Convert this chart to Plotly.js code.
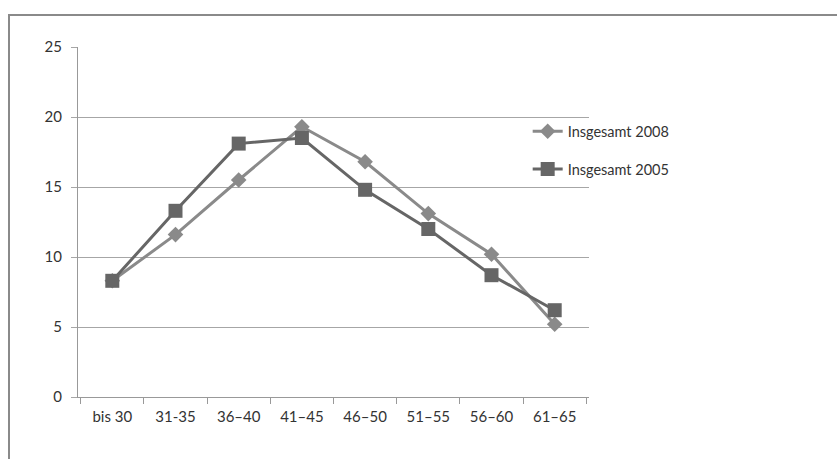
<!DOCTYPE html>
<html>
<head>
<meta charset="utf-8">
<script src="https://cdn.plot.ly/plotly-3.0.1.min.js"></script>
<style>
  html, body { margin:0; padding:0; background:#fff; }
  #frame { position:absolute; left:8px; top:14px; width:900px; height:500px; border:2px solid #8a8a8a; box-sizing:border-box; }
  #chart { position:absolute; left:0; top:0; width:837px; height:459px; }
</style>
</head>
<body>
<div id="frame"></div>
<div id="chart"></div>
<script>
const categories = ["bis 30", "31-35", "36–40", "41–45", "46–50", "51–55", "56–60", "61–65"];
const values2008 = [8.3, 11.6, 15.5, 19.3, 16.8, 13.1, 10.2, 5.2];
const values2005 = [8.3, 13.3, 18.1, 18.5, 14.8, 12.0, 8.7, 6.2];
const yTicks = [0, 5, 10, 15, 20, 25];

const traces = [
  { x: categories, y: values2008, name: "Insgesamt 2008", type: "scatter", mode: "lines+markers", legendgroup: "a",
    line: { color: "#8a8a8a", width: 3 }, marker: { symbol: "diamond", size: 12, color: "#8a8a8a" } },
  { x: categories, y: values2005, name: "Insgesamt 2005", type: "scatter", mode: "lines+markers", legendgroup: "b",
    line: { color: "#666666", width: 3 }, marker: { symbol: "square", size: 14, color: "#666666" } }
];

const layout = {
  width: 837, height: 459,
  margin: { l: 78, r: 248, t: 47, b: 62 },
  paper_bgcolor: "rgba(0,0,0,0)", plot_bgcolor: "rgba(0,0,0,0)",
  font: { family: "Lato, 'Open Sans', sans-serif", size: 15, color: "#333" },
  showlegend: true,
  legend: { x: 0.88, xanchor: "left", y: 0.705, yanchor: "middle", bgcolor: "rgba(0,0,0,0)",
            traceorder: "grouped", font: { size: 14.5, color: "#333" }, tracegroupgap: 16 },
  xaxis: { type: "category", tickson: "boundaries", ticks: "outside", ticklen: 6, tickcolor: "#999",
           showline: true, linecolor: "#999", linewidth: 1, showgrid: false, zeroline: false,
           ticklabelstandoff: 6, tickfont: { size: 15 }, fixedrange: true },
  yaxis: { range: [0, 25], tickvals: yTicks, ticks: "outside", ticklen: 6, tickcolor: "#a6a6a6",
           showline: true, linecolor: "#999", linewidth: 1,
           showgrid: true, gridcolor: "#a6a6a6", gridwidth: 1, zeroline: false, ticklabelstandoff: 6,
           tickfont: { size: 15 }, fixedrange: true }
};

Plotly.newPlot("chart", traces, layout, { staticPlot: true });
</script>
</body>
</html>
